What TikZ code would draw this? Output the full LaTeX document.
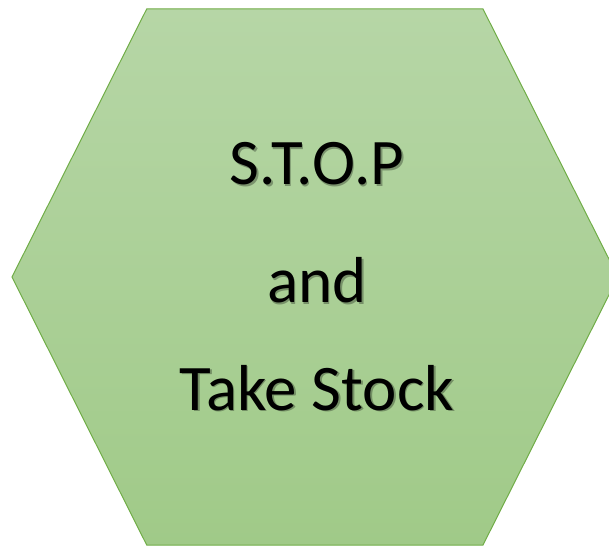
\documentclass[tikz,border=0pt]{standalone}
\usepackage{fontspec}
\setmainfont{Carlito}
\definecolor{hextop}{RGB}{182,214,166}
\definecolor{hexbot}{RGB}{160,202,136}
\definecolor{hexline}{RGB}{112,173,71}
\tikzset{
  label/.style={font=\fontsize{65}{78}\selectfont, text=black, anchor=base, inner sep=0pt},
  shadowlabel/.style={font=\fontsize{65}{78}\selectfont, text=black, anchor=base, inner sep=0pt, opacity=0.3}
}
\begin{document}
\begin{tikzpicture}[x=1pt,y=1pt]
\useasboundingbox (0,0) rectangle (609,546);
\coordinate (tl) at (146.7,537);
\coordinate (tr) at (483,537);
\coordinate (r) at (618,269);
\coordinate (br) at (483,1);
\coordinate (bl) at (146.7,1);
\coordinate (l) at (12,269);
\begin{scope}
\clip (0,0) rectangle (609,546);
\shade[top color=hextop, bottom color=hexbot, draw=hexline, line width=1pt]
  (tl) -- (tr) -- (r) -- (br) -- (bl) -- (l) -- cycle;
\end{scope}
\node[shadowlabel] (s1) at (318.5,359.5) {S.T.O.P};
\node[shadowlabel] (s2) at (318.5,241.5) {and};
\node[shadowlabel] (s3) at (318.5,134.5) {Take Stock};
\node[label] (t1) at (317,361) {S.T.O.P};
\node[label] (t2) at (317,243) {and};
\node[label] (t3) at (317,136) {Take Stock};
\end{tikzpicture}
\end{document}
